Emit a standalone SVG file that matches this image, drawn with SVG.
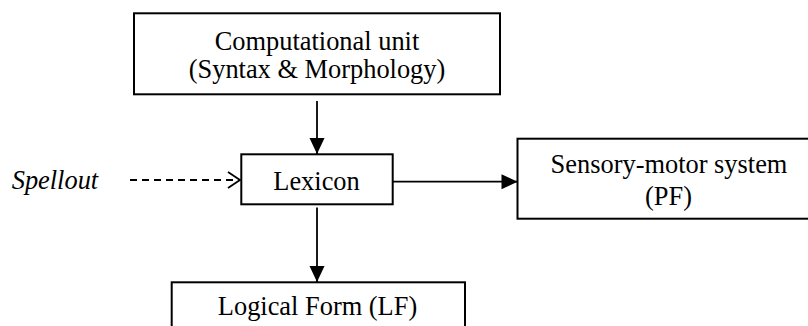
<svg xmlns="http://www.w3.org/2000/svg" width="808" height="326" viewBox="0 0 808 326">
  <style>
    .box { fill: #ffffff; stroke: #000000; stroke-width: 2; }
    .lbl { font-family: 'Liberation Serif', 'Times New Roman', Times, Tinos, 'DejaVu Serif', serif; font-size: 26.4px; fill: #000000; text-anchor: middle; }
    .it { font-style: italic; text-anchor: start; }
    .conn { stroke: #000000; stroke-width: 1.8; fill: none; }
    .dash { stroke-dasharray: 7 5; }
  </style>
  <defs>
    <marker id="filled" markerUnits="userSpaceOnUse" markerWidth="16" markerHeight="15" refX="16" refY="7.5" orient="auto" overflow="visible">
      <path d="M0,0 L16,7.5 L0,15 Z" fill="#000000"/>
    </marker>
    <marker id="open" markerUnits="userSpaceOnUse" markerWidth="13" markerHeight="17" refX="12" refY="8.5" orient="auto" overflow="visible">
      <path d="M0,0.5 L12,8.5 L0,16.5" fill="none" stroke="#000000" stroke-width="1.8"/>
    </marker>
  </defs>
  <rect width="808" height="326" fill="#ffffff"/>

  <g id="connectors">
    <line class="conn" x1="317" y1="101" x2="317" y2="154" marker-end="url(#filled)"/>
    <line class="conn" x1="317" y1="207.5" x2="317" y2="282" marker-end="url(#filled)"/>
    <line class="conn" x1="393" y1="181.7" x2="517.5" y2="181.7" marker-end="url(#filled)"/>
    <line class="conn dash" x1="130" y1="180" x2="240" y2="180" marker-end="url(#open)"/>
  </g>

  <g id="computational-unit">
    <rect class="box" x="134" y="13.3" width="366" height="81"/>
    <text class="lbl" x="317" y="49.5">Computational unit</text>
    <text class="lbl" x="317" y="77.5">(Syntax &amp; Morphology)</text>
  </g>

  <g id="lexicon">
    <rect class="box" x="241.3" y="154.3" width="151.4" height="50"/>
    <text class="lbl" x="316.5" y="189.5">Lexicon</text>
  </g>

  <g id="sensory-motor">
    <rect class="box" x="517.5" y="138.7" width="303" height="80"/>
    <text class="lbl" x="669" y="173.3">Sensory-motor system</text>
    <text class="lbl" x="668.5" y="204.5">(PF)</text>
  </g>

  <g id="logical-form">
    <rect class="box" x="171.7" y="282.3" width="293.3" height="60"/>
    <text class="lbl" x="317.5" y="315">Logical Form (LF)</text>
  </g>

  <g id="spellout">
    <text class="lbl it" x="11.7" y="189">Spellout</text>
  </g>
</svg>
